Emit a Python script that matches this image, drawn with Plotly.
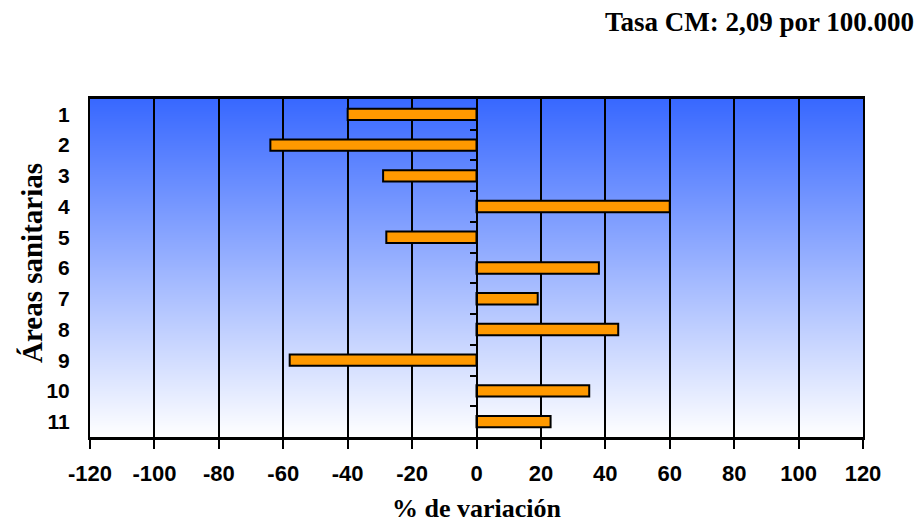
import base64
import struct
import zlib

import plotly.graph_objects as go

# ---- data ----
areas = list(range(1, 12))
area_labels = [str(a) for a in areas]
variation = [-40, -64, -29, 60, -28, 38, 19, 44, -58, 35, 23]
x_ticks = [-120, -100, -80, -60, -40, -20, 0, 20, 40, 60, 80, 100, 120]
x_tick_labels = [str(v) for v in x_ticks]
boundaries = [a + 0.5 for a in areas[:-1]]
title_text = "Tasa CM: 2,09 por 100.000"
x_title = "% de variación"
y_title = "Áreas sanitarias"


def gradient_png(h, top, bottom, w=2):
    rows = []
    for i in range(h):
        t = i / (h - 1)
        c = bytes(int(round(top[k] + (bottom[k] - top[k]) * t)) for k in range(3))
        rows.append(b"\x00" + c * w)
    raw = b"".join(rows)

    def chunk(tag, data):
        return (struct.pack(">I", len(data)) + tag + data
                + struct.pack(">I", zlib.crc32(tag + data) & 0xFFFFFFFF))

    png = b"\x89PNG\r\n\x1a\n"
    png += chunk(b"IHDR", struct.pack(">IIBBBBB", w, h, 8, 2, 0, 0, 0))
    png += chunk(b"IDAT", zlib.compress(raw, 9))
    png += chunk(b"IEND", b"")
    return "data:image/png;base64," + base64.b64encode(png).decode()


bg = gradient_png(340, (56, 104, 255), (255, 255, 255))

fig = go.Figure()
fig.add_trace(go.Bar(
    x=variation, y=areas, orientation="h", width=0.37,
    marker=dict(color="#FF9900", line=dict(color="black", width=2)),
    hoverinfo="x+y", showlegend=False,
))
fig.add_trace(go.Scatter(x=[None], y=[None], yaxis="y2", showlegend=False, hoverinfo="skip"))

fig.update_layout(
    width=920, height=524,
    margin=dict(l=90, r=57, t=99, b=87),
    paper_bgcolor="white",
    plot_bgcolor="rgba(0,0,0,0)",
    images=[dict(source=bg, xref="x domain", yref="y domain", x=0, y=1,
                 sizex=1, sizey=1, sizing="stretch", xanchor="left",
                 yanchor="top", layer="below")],
    xaxis=dict(
        range=[-120, 120], tickvals=x_ticks, ticktext=x_tick_labels,
        showgrid=True, gridcolor="black", gridwidth=2,
        zeroline=False, showline=True, linecolor="black", linewidth=3,
        mirror=True, ticks="outside", ticklen=9, tickwidth=2, tickcolor="black",
        tickfont=dict(family="Liberation Sans", size=22, color="black", weight="bold"),
        ticklabelstandoff=6,
    ),
    yaxis=dict(
        range=[11.5, 0.5], tickvals=areas, ticktext=area_labels,
        showgrid=False, zeroline=False, showline=True, linecolor="black",
        linewidth=2, mirror=True, ticks="",
        tickfont=dict(family="Liberation Sans", size=21, color="black", weight="bold"),
        ticklabelstandoff=14,
    ),
    yaxis2=dict(
        overlaying="y", anchor="free", position=0.5, side="left",
        range=[11.5, 0.5], tickvals=boundaries, showticklabels=False,
        ticks="outside", ticklen=6, tickwidth=2, tickcolor="black",
        showline=True, linecolor="black", linewidth=2,
        showgrid=False, zeroline=False,
    ),
    annotations=[
        dict(text=title_text, xref="paper", yref="paper", x=(916 - 90) / 773,
             y=(437 - 22) / 338, xanchor="right", yanchor="middle", showarrow=False,
             font=dict(family="Liberation Serif", size=27, color="black", weight="bold")),
        dict(text=x_title, xref="paper", yref="paper", x=0.5,
             y=(437 - 508) / 338, xanchor="center", yanchor="middle", showarrow=False,
             font=dict(family="Liberation Serif", size=26, color="black", weight="bold")),
        dict(text=y_title, xref="paper", yref="paper", x=(32 - 90) / 773,
             y=(437 - 263) / 338, xanchor="center", yanchor="middle", showarrow=False,
             textangle=-90,
             font=dict(family="Liberation Serif", size=29, color="black", weight="bold")),
    ],
)

fig.write_html("out.html")
